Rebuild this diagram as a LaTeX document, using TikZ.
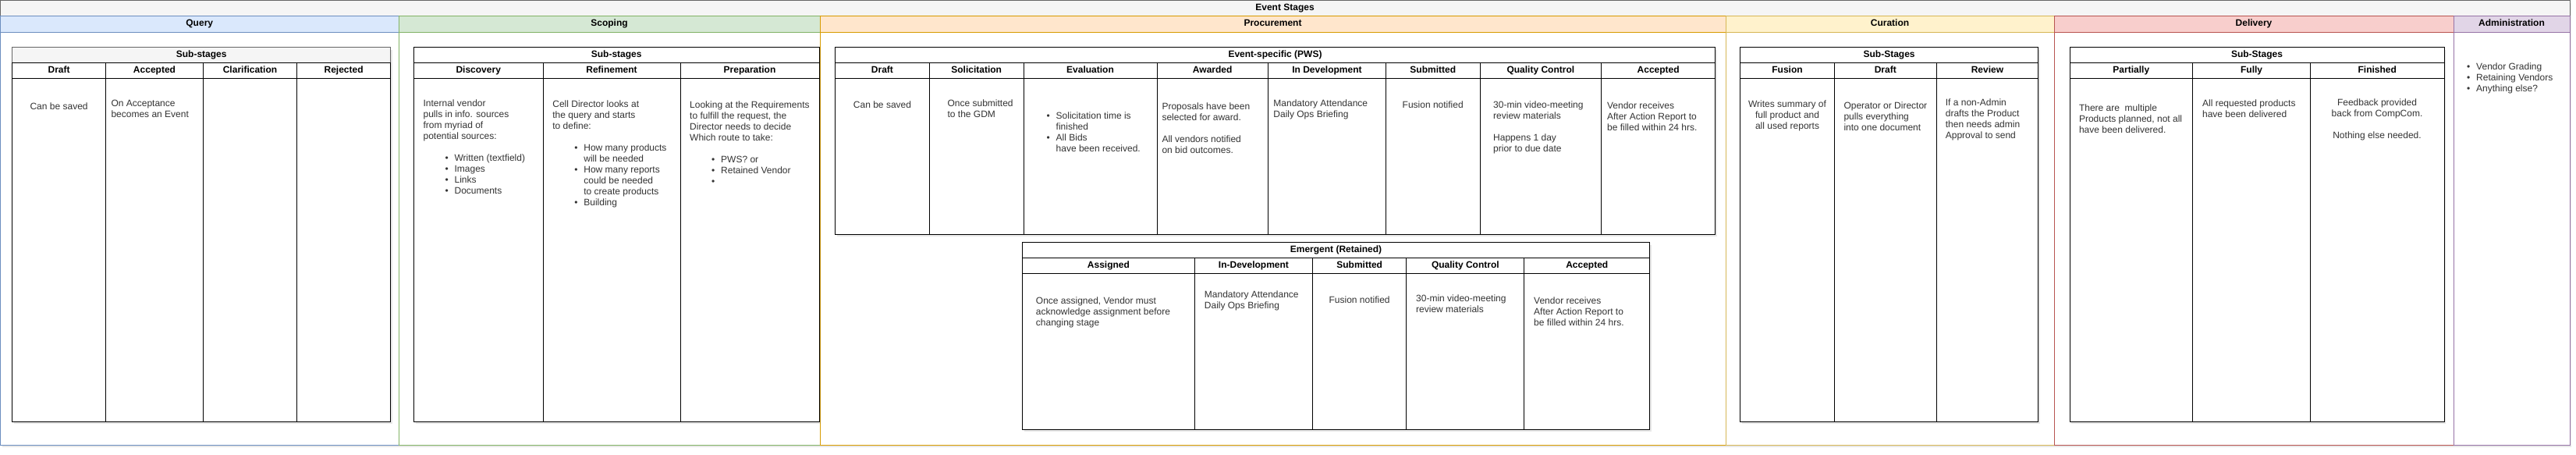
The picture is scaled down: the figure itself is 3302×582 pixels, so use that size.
\documentclass[tikz,border=0pt]{standalone}
\usepackage{fontspec}
\setmainfont{Liberation Sans}
\usetikzlibrary{shadows}
\definecolor{qline}{HTML}{6C8EBF}\definecolor{qfill}{HTML}{DAE8FC}
\definecolor{sline}{HTML}{82B366}\definecolor{sfill}{HTML}{D5E8D4}
\definecolor{pline}{HTML}{D79B00}\definecolor{pfill}{HTML}{FFE6CC}
\definecolor{cline}{HTML}{D6B656}\definecolor{cfill}{HTML}{FFF2CC}
\definecolor{dline}{HTML}{B85450}\definecolor{dfill}{HTML}{F8CECC}
\definecolor{aline}{HTML}{9673A6}\definecolor{afill}{HTML}{E1D5E7}
\definecolor{tgray}{HTML}{F5F5F5}\definecolor{bgray}{HTML}{666666}
\definecolor{ink}{HTML}{333333}
\newcommand{\lbul}{\hspace*{28pt}\makebox[12pt][l]{\textbullet}}
\newcommand{\lind}{\hspace*{40pt}}

\begin{document}
\begin{tikzpicture}[
  x=1pt, y=-1pt,
  lane/.style={line width=1pt},
  cell/.style={draw=black, line width=1pt, fill=white},
  shade/.style={fill=white, drop shadow={shadow xshift=2pt, shadow yshift=-3pt, opacity=0.15, fill=black!60}},
  head/.style={font=\fontsize{12}{14}\selectfont\bfseries, text=black, inner sep=0pt, text height=9pt, text depth=2.5pt},
  txt/.style={font=\fontsize{12}{14}\selectfont, text=ink, inner sep=0pt, align=left, anchor=north west},
  ctxt/.style={txt, align=center, anchor=north}
]
\useasboundingbox (0,0) rectangle (3302,582);
\draw[shade, lane, draw=bgray, fill=tgray] (0.5,0.5) rectangle (3294,570);
\node[head] (title) at (1647,10) {Event Stages};
\foreach \xa/\xb/\lc/\fc/\nm [count=\i] in {0.5/511/qline/qfill/Query, 511/1051/sline/sfill/Scoping, 1051/2212/pline/pfill/Procurement, 2212/2633/cline/cfill/Curation, 2633/3145/dline/dfill/Delivery, 3145/3294/aline/afill/Administration} {
  \draw[lane, draw=\lc, fill=white] (\xa,20) rectangle (\xb,570);
  \draw[lane, draw=\lc, fill=\fc] (\xa,20) rectangle (\xb,41);
  \node[head] (lane\i) at ({(\xa+\xb)/2},30.5) {\nm};
}

\path[shade] (15.7,60.7) rectangle (500.7,540);
\draw[cell, draw=bgray, fill=tgray] (15.7,60.7) rectangle (500.7,80.3);
\node[head] (qsub) at (258.2,70.5) {Sub-stages};
\foreach \xa/\xb/\nm [count=\i] in {15.7/135.5/Draft, 135.5/260.5/Accepted, 260.5/380.5/Clarification, 380.5/500.7/Rejected} {
  \draw[cell] (\xa,80.3) rectangle (\xb,100.3);
  \draw[cell] (\xa,100.3) rectangle (\xb,540);
  \node[head] (qcol\i) at ({(\xa+\xb)/2},90.3) {\nm};
}
\node[ctxt] (qdraft) at (75.6,132) {Can be saved};
\node[txt] (qacc) at (142.3,128) {On Acceptance\\becomes an Event};

\path[shade] (530.5,60.7) rectangle (1050,540);
\draw[cell] (530.5,60.7) rectangle (1050,80.3);
\node[head] (ssub) at (790.2,70.5) {Sub-stages};
\foreach \xa/\xb/\nm [count=\i] in {530.5/696/Discovery, 696/872/Refinement, 872/1050/Preparation} {
  \draw[cell] (\xa,80.3) rectangle (\xb,100.3);
  \draw[cell] (\xa,100.3) rectangle (\xb,540);
  \node[head] (scol\i) at ({(\xa+\xb)/2},90.3) {\nm};
}
\node[txt] (sdisc) at (542.4,127.7) {Internal vendor\\pulls in info. sources\\from myriad of\\potential sources:\\[14pt]\lbul Written (textfield)\\\lbul Images\\\lbul Links\\\lbul Documents};
\node[txt] (sref) at (708.2,128.3) {Cell Director looks at\\the query and starts\\to define:\\[14pt]\lbul How many products\\\lind will be needed\\\lbul How many reports\\\lind could be needed\\\lind to create products\\\lbul Building};
\node[txt] (sprep) at (884,130) {Looking at the Requirements\\to fulfill the request, the\\Director needs to decide\\Which route to take:\\[14pt]\lbul PWS? or\\\lbul Retained Vendor\\\lbul};

\path[shade] (1070.5,60.7) rectangle (2198.6,300);
\draw[cell] (1070.5,60.7) rectangle (2198.6,80.3);
\node[head] (pws) at (1634.5,70.5) {Event-specific (PWS)};
\foreach \xa/\xb/\nm [count=\i] in {1070.5/1191.4/Draft, 1191.4/1312/Solicitation, 1312/1483/Evaluation, 1483/1625.4/Awarded, 1625.4/1776.5/In Development, 1776.5/1897/Submitted, 1897/2052.7/Quality Control, 2052.7/2198.6/Accepted} {
  \draw[cell] (\xa,80.3) rectangle (\xb,100.3);
  \draw[cell] (\xa,100.3) rectangle (\xb,300);
  \node[head] (pcol\i) at ({(\xa+\xb)/2},90.3) {\nm};
}
\node[ctxt] (pdraft) at (1131,130) {Can be saved};
\node[txt] (psol) at (1214.4,127.7) {Once submitted\\to the GDM};
\node[txt] (peval) at (1313.5,144) {\lbul Solicitation time is\\\lind finished\\\lbul All Bids\\\lind have been received.};
\node[txt] (paward) at (1489.3,131.7) {Proposals have been\\selected for award.\\[14pt]All vendors notified\\on bid outcomes.};
\node[txt] (pdev) at (1632.2,127.7) {Mandatory Attendance\\Daily Ops Briefing};
\node[ctxt] (psub) at (1836.7,130) {Fusion notified};
\node[txt] (pqc) at (1914,130) {30-min video-meeting\\review materials\\[14pt]Happens 1 day\\prior to due date};
\node[txt] (pacc) at (2059.9,130.7) {Vendor receives\\After Action Report to\\be filled within 24 hrs.};

\path[shade] (1310.5,310.5) rectangle (2114.6,550.3);
\draw[cell] (1310.5,310.5) rectangle (2114.6,330.7);
\node[head] (emg) at (1712.5,320.6) {Emergent (Retained)};
\foreach \xa/\xb/\nm [count=\i] in {1310.5/1531.4/Assigned, 1531.4/1682.5/In-Development, 1682.5/1802.8/Submitted, 1802.8/1953.9/Quality Control, 1953.9/2114.6/Accepted} {
  \draw[cell] (\xa,330.7) rectangle (\xb,350.7);
  \draw[cell] (\xa,350.7) rectangle (\xb,550.3);
  \node[head] (ecol\i) at ({(\xa+\xb)/2},340.7) {\nm};
}
\node[txt] (eassign) at (1327.7,381) {Once assigned, Vendor must\\acknowledge assignment before\\changing stage};
\node[txt] (edev) at (1543.7,372.7) {Mandatory Attendance\\Daily Ops Briefing};
\node[ctxt] (esub) at (1742.6,380) {Fusion notified};
\node[txt] (eqc) at (1815,378) {30-min video-meeting\\review materials};
\node[txt] (eacc) at (1966,381) {Vendor receives\\After Action Report to\\be filled within 24 hrs.};

\path[shade] (2230.5,60.7) rectangle (2612.8,540);
\draw[cell] (2230.5,60.7) rectangle (2612.8,80.3);
\node[head] (csub) at (2421.6,70.5) {Sub-Stages};
\foreach \xa/\xb/\nm [count=\i] in {2230.5/2351.5/Fusion, 2351.5/2482/Draft, 2482/2612.8/Review} {
  \draw[cell] (\xa,80.3) rectangle (\xb,100.3);
  \draw[cell] (\xa,100.3) rectangle (\xb,540);
  \node[head] (ccol\i) at ({(\xa+\xb)/2},90.3) {\nm};
}
\node[ctxt] (cfus) at (2291,128.7) {Writes summary of\\full product and\\all used reports};
\node[txt] (cdraft) at (2363.3,130.7) {Operator or Director\\pulls everything\\into one document};
\node[txt] (crev) at (2493.6,127) {If a non-Admin\\drafts the Product\\then needs admin\\Approval to send};

\path[shade] (2653,60.7) rectangle (3133,540);
\draw[cell] (2653,60.7) rectangle (3133,80.3);
\node[head] (dsub) at (2893,70.5) {Sub-Stages};
\foreach \xa/\xb/\nm [count=\i] in {2653/2810.6/Partially, 2810.6/2961.5/Fully, 2961.5/3133/Finished} {
  \draw[cell] (\xa,80.3) rectangle (\xb,100.3);
  \draw[cell] (\xa,100.3) rectangle (\xb,540);
  \node[head] (dcol\i) at ({(\xa+\xb)/2},90.3) {\nm};
}
\node[txt] (dpart) at (2664.8,133.7) {There are\ \ multiple\\Products planned, not all\\have been delivered.};
\node[txt] (dfull) at (2822.9,127.7) {All requested products\\have been delivered};
\node[ctxt] (dfin) at (3047,126.7) {Feedback provided\\back from CompCom.\\[14pt]Nothing else needed.};

\node[txt] (admin) at (3134,80.7) {\lbul Vendor Grading\\\lbul Retaining Vendors\\\lbul Anything else?};
\end{tikzpicture}
\end{document}
